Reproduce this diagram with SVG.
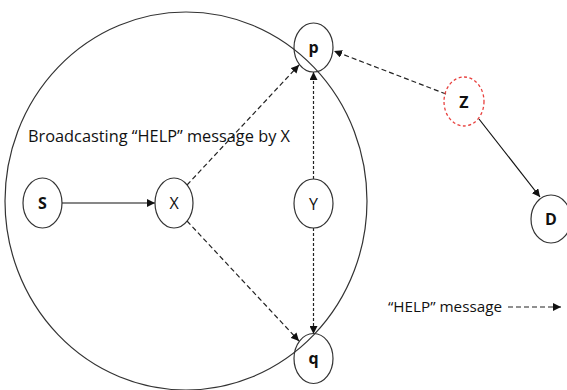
<svg xmlns="http://www.w3.org/2000/svg" width="567" height="390" viewBox="0 0 567 390">
<style>
.node{fill:none;stroke:#333;stroke-width:1.2}
.zn{fill:none;stroke:#e8423f;stroke-width:1.3;stroke-dasharray:3 2.5}
.lb{font-family:"Open Sans","Liberation Sans",sans-serif;font-size:16px;fill:#111;text-anchor:middle}
.b{font-weight:bold}
.txt{font-family:"Open Sans","Liberation Sans",sans-serif;fill:#111}
.solid{stroke:#111;stroke-width:1.2;fill:none}
.dash{stroke:#222;stroke-width:1.2;fill:none;stroke-dasharray:5 3}
.dot{stroke:#222;stroke-width:1.2;fill:none;stroke-dasharray:3 2}
</style>
<defs>
<marker id="ah" viewBox="0 0 10 10" refX="10" refY="5" markerWidth="8" markerHeight="8" markerUnits="userSpaceOnUse" orient="auto">
<path d="M0,0 L10,5 L0,10 Z" fill="#111"/>
</marker>
</defs>
<rect width="567" height="390" fill="#fff"/>
<ellipse id="range" cx="186" cy="201" rx="181" ry="189" fill="none" stroke="#333" stroke-width="1.2"/>
<g id="connectors">
<line class="solid" x1="62" y1="203" x2="155" y2="203" marker-end="url(#ah)"/>
<line class="dash" x1="187" y1="185" x2="299" y2="65" marker-end="url(#ah)"/>
<line class="dash" x1="187" y1="221" x2="299" y2="341" marker-end="url(#ah)"/>
<line class="dot" x1="313.5" y1="179" x2="313.5" y2="72" marker-end="url(#ah)"/>
<line class="dot" x1="313.5" y1="228" x2="313.5" y2="334" marker-end="url(#ah)"/>
<line class="dash" x1="446" y1="94" x2="334" y2="51" marker-end="url(#ah)"/>
<line class="solid" x1="479" y1="119" x2="540" y2="197" marker-end="url(#ah)"/>
<line class="dash" x1="508" y1="307" x2="561" y2="307" marker-end="url(#ah)"/>
</g>
<g id="node-S"><ellipse class="node" cx="42.5" cy="203" rx="19.5" ry="25"/><text class="lb b" x="42.5" y="209">S</text></g>
<g id="node-X"><ellipse class="node" cx="174" cy="203" rx="19" ry="25"/><text class="lb" x="174" y="209">X</text></g>
<g id="node-p"><ellipse class="node" cx="313.5" cy="47.5" rx="19.5" ry="24.5"/><text class="lb b" x="313.5" y="53">p</text></g>
<g id="node-Y"><ellipse class="node" cx="313.5" cy="203.5" rx="19.5" ry="24.5"/><text class="lb" x="313.5" y="209.5">Y</text></g>
<g id="node-q"><ellipse class="node" cx="313.5" cy="358.5" rx="19.5" ry="25"/><text class="lb b" x="313.5" y="364">q</text></g>
<g id="node-Z"><ellipse class="zn" cx="464" cy="101.5" rx="20" ry="24.5"/><text class="lb b" x="464" y="108">Z</text></g>
<g id="node-D"><ellipse class="node" cx="551" cy="219" rx="20" ry="24"/><text class="lb b" x="551" y="225">D</text></g>
<text class="txt" x="28" y="142" font-size="17" textLength="262" lengthAdjust="spacingAndGlyphs">Broadcasting “HELP” message by X</text>
<text class="txt" x="388" y="312" font-size="15" textLength="114" lengthAdjust="spacingAndGlyphs">“HELP” message</text>
</svg>
